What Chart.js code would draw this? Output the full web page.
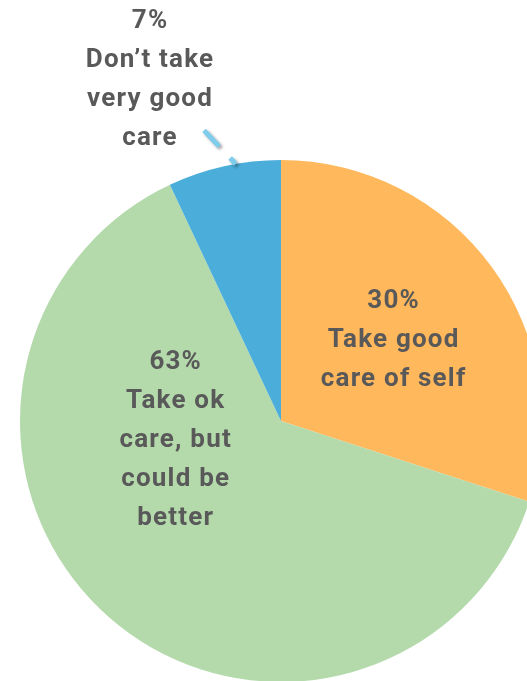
<!DOCTYPE html>
<html>
<head>
<meta charset="utf-8">
<script src="https://cdn.jsdelivr.net/npm/chart.js@4/dist/chart.umd.min.js"></script>
<style>
  html, body { margin: 0; padding: 0; background: #ffffff; overflow: hidden; width: 527px; height: 681px; }
  canvas { display: block; position: absolute; left: 0; top: 0; }
</style>
</head>
<body>
<canvas id="pie" width="562" height="842"></canvas>
<script>
// Self-care survey: share of respondents by how well they look after themselves
const categories = ["Take good care of self", "Take ok care, but could be better", "Don\u2019t take very good care"];
const labelLines = [["Take good", "care of self"], ["Take ok", "care, but", "could be", "better"], ["Don\u2019t take", "very good", "care"]];
const shares = [30, 63, 7];
const colors = ["#FFB85C", "#B4DAAC", "#4AADDA"];

// Label anchors: angle (deg, clockwise from top) and distance as a fraction of the radius
const labelAnchors = [
  { angle: 54.5, dist: 0.53 },
  { angle: 259.7, dist: 0.41 },
  { angle: 339, dist: 1.40, leader: true }
];

const labelPlugin = {
  id: 'sliceLabels',
  afterDatasetsDraw(chart) {
    const ctx = chart.ctx;
    const meta = chart.getDatasetMeta(0);
    ctx.save();
    ctx.font = 'bold 26px Roboto, "DejaVu Sans", sans-serif';
    if ('letterSpacing' in ctx) ctx.letterSpacing = '1.2px';
    ctx.fillStyle = '#595959';
    ctx.textAlign = 'center';
    ctx.textBaseline = 'middle';
    const lineH = 39;
    meta.data.forEach((arc, i) => {
      const { x, y, outerRadius } = arc.getProps(['x', 'y', 'outerRadius'], true);
      const a = labelAnchors[i];
      const rad = a.angle * Math.PI / 180;
      const cx = x + Math.sin(rad) * outerRadius * a.dist;
      const cy = y - Math.cos(rad) * outerRadius * a.dist;
      const lines = [shares[i] + '%'].concat(labelLines[i]);
      const top = cy - (lines.length - 1) * lineH / 2;
      if (a.leader) {
        // dashed leader from the label to the slice edge
        const endAng = 350 * Math.PI / 180;
        const ex = x + Math.sin(endAng) * outerRadius;
        const ey = y - Math.cos(endAng) * outerRadius;
        const sx = cx + 54, sy = top + (lines.length - 1) * lineH - 8;
        ctx.save();
        ctx.lineWidth = 5;
        ctx.strokeStyle = '#7FCDEC';
        ctx.setLineDash([22, 16]);
        ctx.shadowColor = 'rgba(0,0,0,0.35)';
        ctx.shadowBlur = 3;
        ctx.shadowOffsetX = 2;
        ctx.shadowOffsetY = 2;
        ctx.beginPath();
        ctx.moveTo(sx, sy);
        ctx.lineTo(ex, ey);
        ctx.stroke();
        ctx.restore();
      }
      lines.forEach((t, k) => ctx.fillText(t, cx, top + k * lineH));
    });
    ctx.restore();
  }
};

new Chart(document.getElementById('pie'), {
  type: 'pie',
  data: {
    labels: categories,
    datasets: [{ data: shares, backgroundColor: colors, borderWidth: 0 }]
  },
  options: {
    responsive: false,
    animation: false,
    layout: { padding: 20 },
    plugins: { legend: { display: false }, tooltip: { enabled: false } }
  },
  plugins: [labelPlugin]
});
</script>
</body>
</html>
